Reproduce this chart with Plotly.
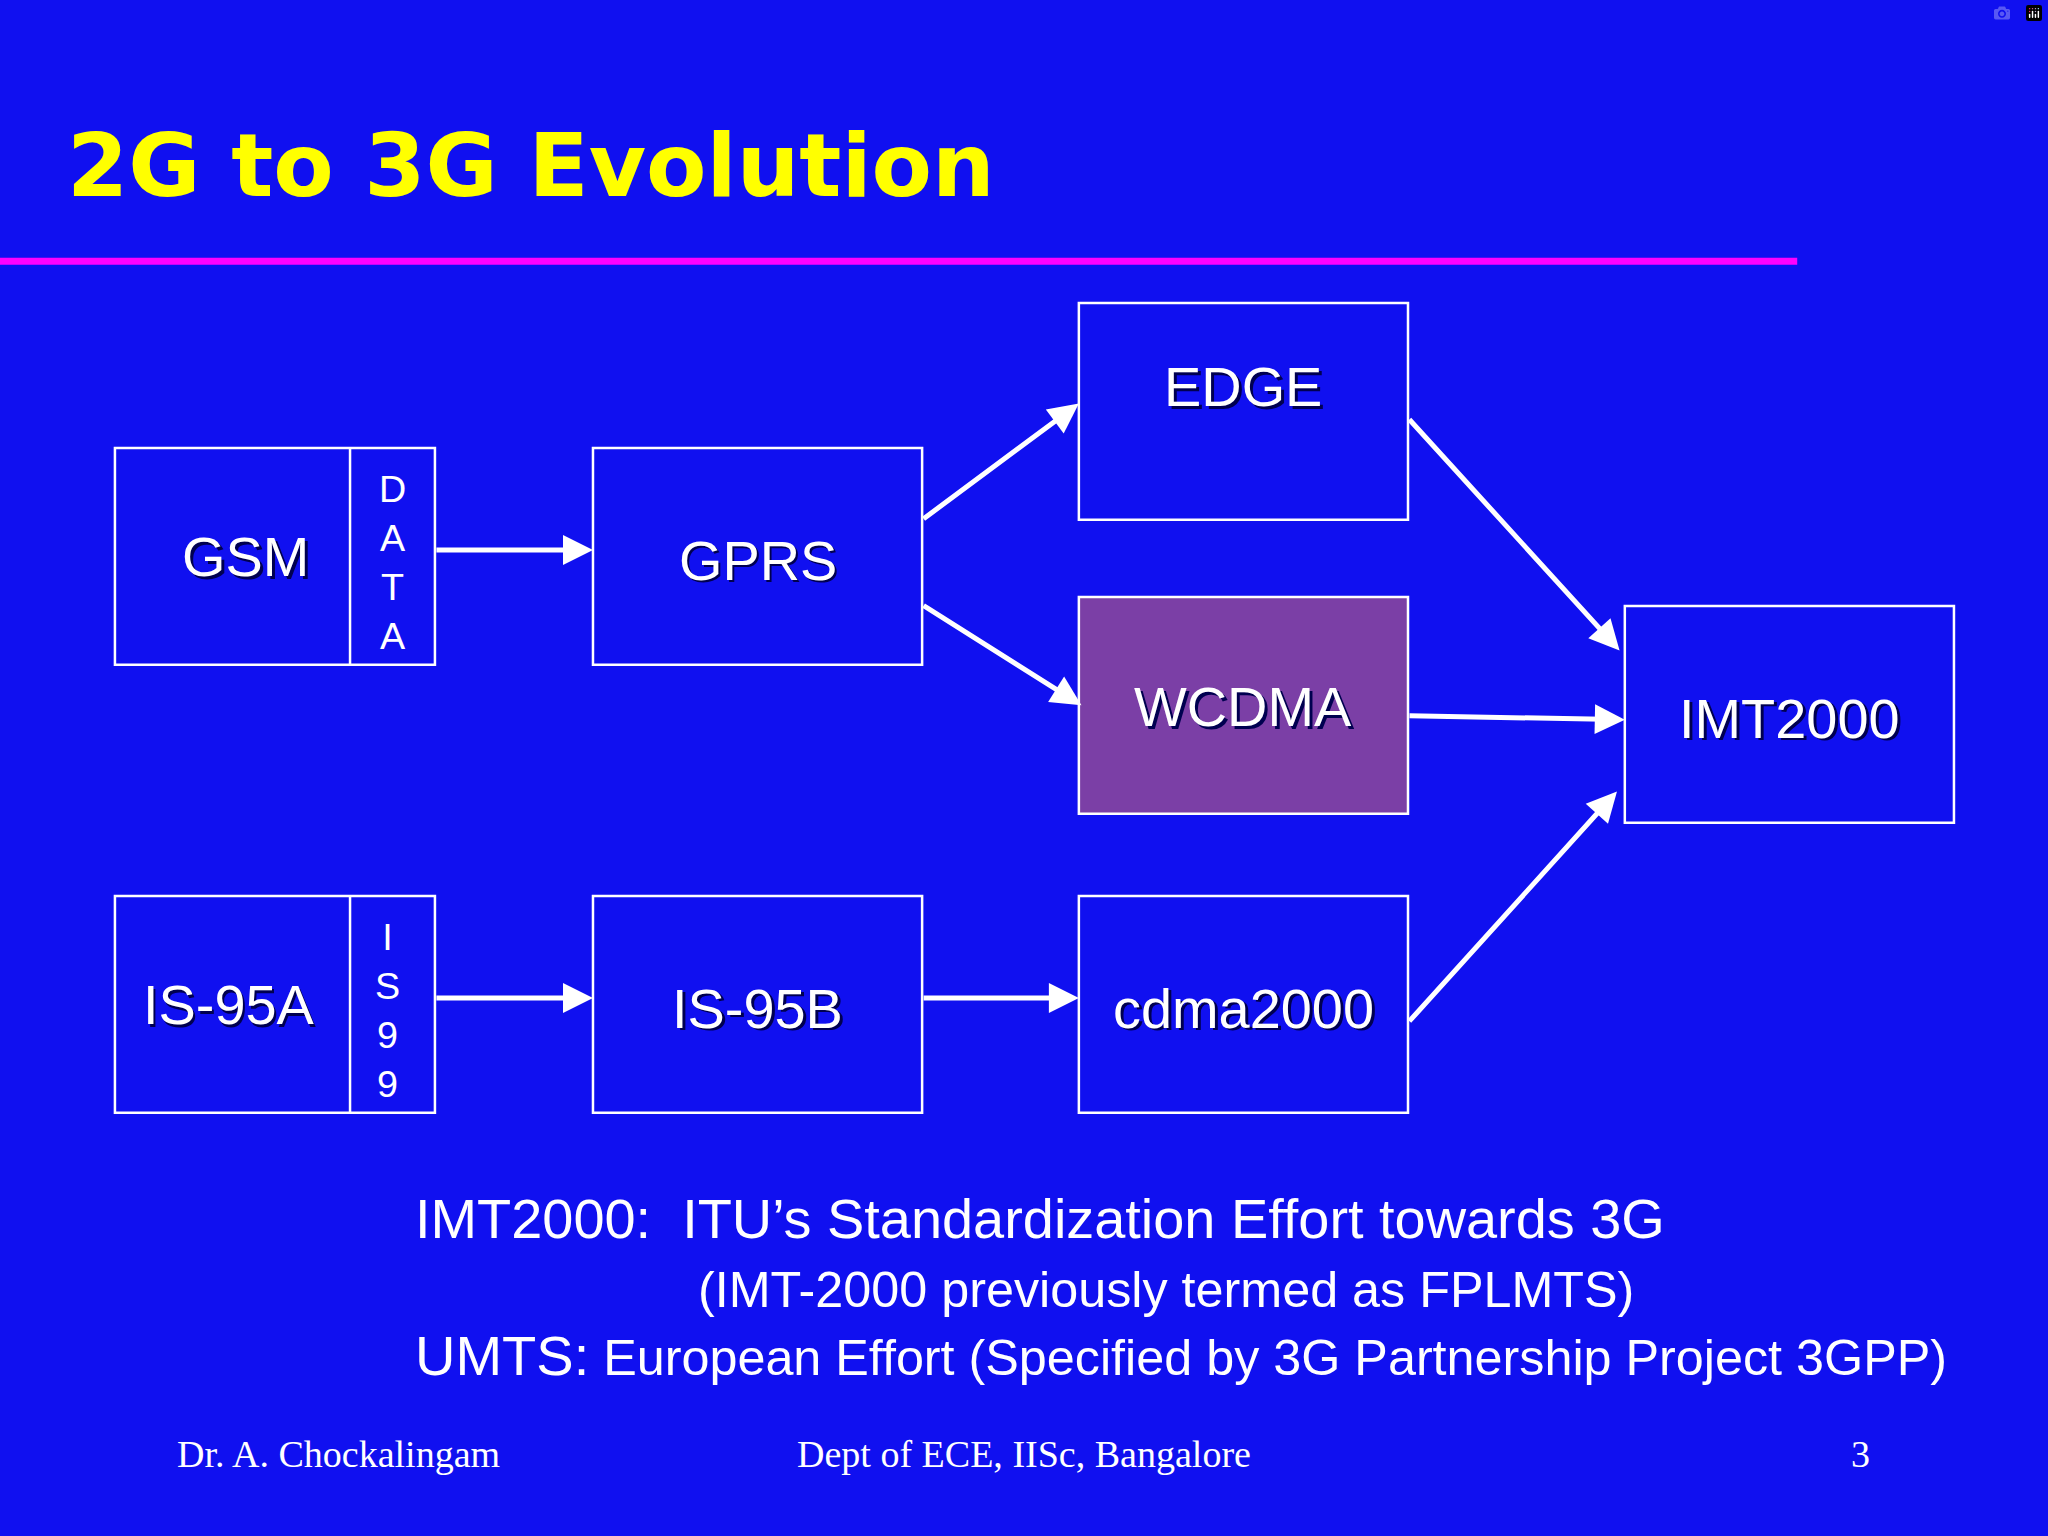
import plotly.graph_objects as go

S = 2048 / 1568 * 1.07  # display-to-pixel scale with font width correction

box_labels = ["GSM", "GPRS", "EDGE", "WCDMA", "IMT2000", "IS-95A", "IS-95B", "cdma2000"]
side_labels = ["DATA", "IS99"]
arrow_pairs = [("GSM", "GPRS"), ("GPRS", "EDGE"), ("GPRS", "WCDMA"), ("EDGE", "IMT2000"),
               ("WCDMA", "IMT2000"), ("cdma2000", "IMT2000"), ("IS-95A", "IS-95B"), ("IS-95B", "cdma2000")]

# layout geometry (display coordinates)
boxes = {
    "GSM": (88, 333, 343, 509), "GPRS": (454, 706, 343, 509), "EDGE": (826, 1078, 232, 398),
    "WCDMA": (826, 1078, 457, 623), "IMT2000": (1244, 1496, 464, 630),
    "IS-95A": (88, 333, 686, 852), "IS-95B": (454, 706, 686, 852), "cdma2000": (826, 1078, 686, 852),
}
label_pos = {"GSM": (188, 426), "IS-95A": (175, 769)}
arrow_geom = [((333, 421), (454, 421)), ((706, 398), (826, 309)), ((706, 463), (828, 540)),
              ((1078, 320), (1240, 498)), ((1078, 548), (1244, 551)), ((1078, 783), (1238, 606)),
              ((333, 764), (454, 764)), ((706, 764), (826, 764))]

BG = "#1010F0"
fig = go.Figure()
shapes = []
ann = []

shapes.append(dict(type="line", x0=0, x1=1376, y0=200, y1=200, line=dict(color="#FF00FF", width=7)))
for name in box_labels:
    x0, x1, y0, y1 = boxes[name]
    fill = "#7B3FA6" if name == "WCDMA" else "rgba(0,0,0,0)"
    shapes.append(dict(type="rect", x0=x0, x1=x1, y0=y0, y1=y1, fillcolor=fill,
                       line=dict(color="white", width=2.5)))
    if name == "EDGE":
        cx, cy = (x0 + x1) / 2, 296
    elif name == "WCDMA":
        cx, cy = (x0 + x1) / 2, 541
    else:
        cx, cy = label_pos.get(name, ((x0 + x1) / 2, (y0 + y1) / 2 + 3))
    for dx, col in ((2, "#000050"), (0, "white")):
        ann.append(dict(x=cx + dx, y=cy + dx, text=name, showarrow=False,
                        font=dict(family="Liberation Sans", size=40 * S, color=col)))

for name, side in zip(["GSM", "IS-95A"], side_labels):
    x0, x1, y0, y1 = boxes[name]
    shapes.append(dict(type="line", x0=268, x1=268, y0=y0, y1=y1, line=dict(color="white", width=2.5)))
    ann.append(dict(x=(268 + x1) / 2 - (4 if side == "IS99" else 0), y=(y0 + y1) / 2 + 5,
                    text="<br>".join(side), showarrow=False,
                    font=dict(family="Liberation Sans", size=27 * S, color="white")))

for (a, b) in arrow_geom:
    ann.append(dict(x=b[0], y=b[1], ax=a[0], ay=a[1], xref="x", yref="y", axref="x", ayref="y",
                    text="", showarrow=True, arrowhead=2, arrowsize=1.2, arrowwidth=5,
                    arrowcolor="white", standoff=0))

ann.append(dict(x=50, y=127, text="<b>2G to 3G Evolution</b>", showarrow=False, xanchor="left",
                font=dict(family="DejaVu Sans", size=63 * S, color="#FFFF00")))
ann.append(dict(x=316, y=933, xanchor="left", showarrow=False,
                text="IMT2000:  ITU’s Standardization Effort towards 3G",
                font=dict(family="Liberation Sans", size=40 * S, color="white")))
ann.append(dict(x=533, y=987, xanchor="left", showarrow=False,
                text="(IMT-2000 previously termed as FPLMTS)",
                font=dict(family="Liberation Sans", size=36 * S, color="white")))
ann.append(dict(x=316, y=1038, xanchor="left", showarrow=False,
                text="<span style='font-size:%dpx'>UMTS:</span> European Effort (Specified by 3G Partnership Project 3GPP)" % round(40 * S),
                font=dict(family="Liberation Sans", size=36 * S, color="white")))
for x, t, anc in ((134, "Dr. A. Chockalingam", "left"), (784, "Dept of ECE, IISc, Bangalore", "center"),
                  (1433, "3", "right")):
    ann.append(dict(x=x, y=1113, text=t, xanchor=anc, showarrow=False,
                    font=dict(family="Liberation Serif", size=28 * 2048 / 1568 * 1.04, color="white")))

fig.update_layout(width=2048, height=1536, margin=dict(l=0, r=0, t=0, b=0),
                  paper_bgcolor=BG, plot_bgcolor=BG, shapes=shapes, annotations=ann,
                  xaxis=dict(range=[0, 1568], visible=False, fixedrange=True),
                  yaxis=dict(range=[1176, 0], visible=False, fixedrange=True),
                  showlegend=False)
fig.write_html("out.html", post_script="document.body.style.margin='0';document.body.style.background='%s';" % BG)
